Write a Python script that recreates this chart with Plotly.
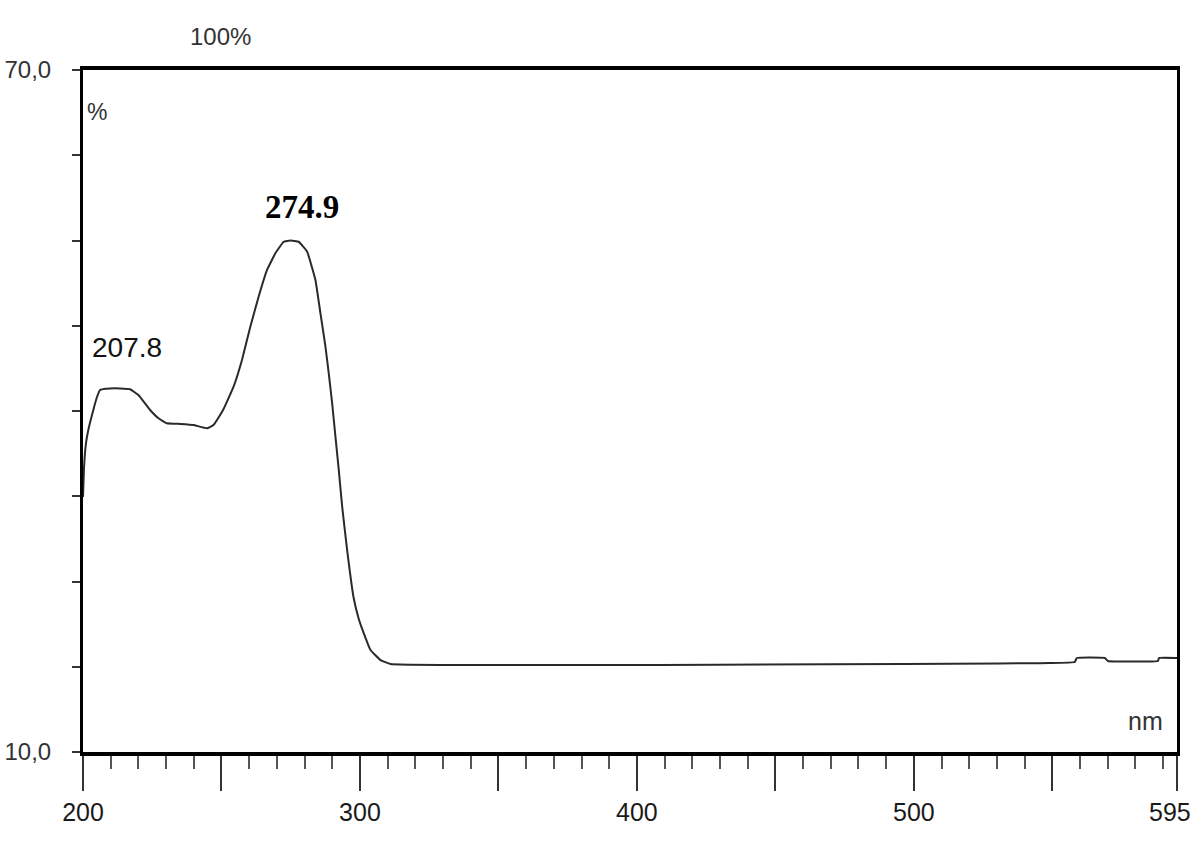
import plotly.graph_objects as go

# Spectrum (wavelength nm, %)
wavelength = [200.00, 200.36, 201.09, 201.92, 203.73, 205.06, 206.15, 209.77, 213.38, 217.00,
              220.00, 224.23, 227.13, 230.28, 235.09, 239.90, 244.74, 247.13, 248.83, 250.75,
              254.37, 257.40, 260.41, 263.41, 266.45, 269.45, 272.45, 274.88, 277.88, 280.92,
              283.92, 285.73, 287.54, 288.73, 289.96, 291.15, 292.35, 293.58, 295.49, 297.66,
              299.47, 300.92, 303.81, 307.43, 311.05, 548.69, 558.09, 558.82, 568.94, 570.03,
              588.12, 588.48, 595.00]
percent = [32.44, 34.99, 37.19, 38.33, 40.09, 41.23, 41.85, 41.98, 41.98, 41.91,
           41.41, 40.09, 39.38, 38.92, 38.86, 38.77, 38.48, 38.77, 39.38, 40.18,
           42.14, 44.49, 47.42, 50.06, 52.41, 53.87, 54.89, 55.00, 54.89, 54.02,
           51.53, 48.60, 45.66, 43.32, 40.68, 37.74, 34.81, 31.58, 27.51, 23.64,
           21.79, 20.74, 18.97, 18.09, 17.74, 17.83, 17.92, 18.27, 18.27, 18.01,
           18.01, 18.27, 18.27]

peak_labels = ["207.8", "274.9"]
x_major = [200, 250, 300, 350, 400, 450, 500, 550, 595]
x_major_text = ["200", "", "300", "", "400", "", "500", "", ""]
x_end_label = "595"
y_ticks = [10.0, 17.5, 25.0, 32.5, 40.0, 47.5, 55.0, 62.5, 70.0]
y_tick_text = ["10,0", "", "", "", "", "", "", "", "70,0"]

sans = "Liberation Sans, Arial, sans-serif"

fig = go.Figure()
fig.add_trace(go.Scatter(
    x=wavelength, y=percent, mode="lines",
    line=dict(color="#2a2a2a", width=2, shape="spline", smoothing=0.3),
    hoverinfo="skip", showlegend=False,
))

W, H = 1194, 841
l, r, t, b = 83, 17, 70, 89
pw, ph = W - l - r, H - t - b


def px(xp, yp):
    return (xp - l) / pw, 1 - (yp - t) / ph


def label(text, xp, yp, size, family=sans, color="#2a2a2a"):
    x, y = px(xp, yp)
    return dict(text=text, x=x, y=y, xref="paper", yref="paper", showarrow=False,
                xanchor="center", yanchor="middle",
                font=dict(family=family, size=size, color=color))


fig.update_layout(
    width=W, height=H,
    margin=dict(l=l, r=r, t=t, b=b, autoexpand=False),
    paper_bgcolor="white", plot_bgcolor="white",
    font=dict(family=sans, color="#222222", size=25),
    xaxis=dict(
        range=[200, 595], tickmode="array", tickvals=x_major, ticktext=x_major_text,
        ticks="outside", ticklen=35, tickwidth=2, tickcolor="#333333",
        minor=dict(dtick=10, tick0=200, ticks="outside", ticklen=13, tickwidth=2,
                   tickcolor="#555555", showgrid=False),
        showline=True, linecolor="black", linewidth=4, mirror=True,
        showgrid=False, zeroline=False, ticklabeloverflow="allow",
        tickfont=dict(family=sans, size=25, color="#1a1a1a"),
    ),
    yaxis=dict(
        range=[10, 70], tickmode="array", tickvals=y_ticks, ticktext=y_tick_text,
        ticks="outside", ticklen=8, tickwidth=2, tickcolor="#333333",
        showline=True, linecolor="black", linewidth=3, mirror=True,
        showgrid=False, zeroline=False, ticklabelstandoff=16,
        tickfont=dict(family=sans, size=24, color="#333333"),
    ),
    annotations=[
        label(peak_labels[0], 127, 347, 28, color="#111111"),
        label("<b>" + peak_labels[1] + "</b>", 302, 207, 33,
              family="Liberation Serif, Times New Roman, serif", color="#000000"),
        label("%", 97, 112, 23, color="#333333"),
        label("nm", 1145, 721, 25, color="#333333"),
        label("100%", 220, 36, 24, color="#333333"),
        label(x_end_label, 1170, 812, 25, color="#1a1a1a"),
    ],
)

fig.write_html("out.html", config={"displayModeBar": False},
               post_script="document.body.style.margin='0px';document.body.style.padding='0px';")
